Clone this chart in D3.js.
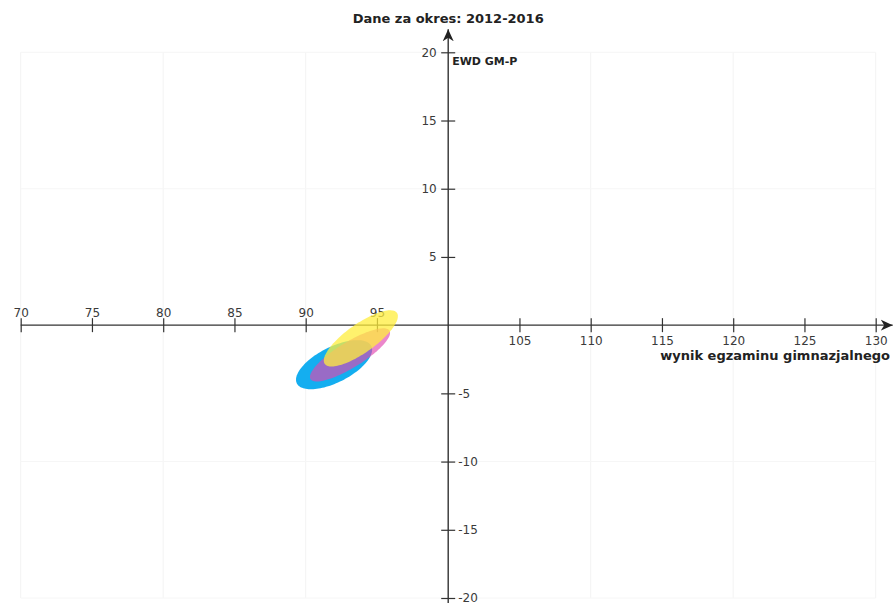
<!DOCTYPE html>
<html lang="pl">
<head>
<meta charset="utf-8">
<title>EWD GM-P 2012-2016</title>
<script src="https://cdn.jsdelivr.net/npm/d3@7/dist/d3.min.js"></script>
<style>
  html, body { margin: 0; padding: 0; background: #fff; }
  svg { display: block; }
  .tick text { font-family: "DejaVu Sans", sans-serif; font-size: 12px; fill: #3a3a3a; }
  .lbl { font-family: "DejaVu Sans", sans-serif; font-weight: bold; fill: #222; }
</style>
</head>
<body>
<svg id="chart" width="894" height="603"></svg>
<script>
// Axis ticks
const xTicksLeft  = [70, 75, 80, 85, 90, 95];
const xTicksRight = [105, 110, 115, 120, 125, 130];
const yTicksUp    = [5, 10, 15, 20];
const yTicksDown  = [-5, -10, -15, -20];
const gridX = [70, 80, 90, 110, 120, 130];
const gridY = [-20, -10, 10, 20];

// Confidence ellipses: mean exam score, mean EWD, spreads and correlation
const periodNames = ["okres A", "okres B", "okres C"];
const meanX = [91.99, 93.11, 93.87];
const meanY = [-2.90, -2.18, -0.97];
const sdX   = [2.67, 2.81, 2.60];
const sdY   = [1.80, 1.95, 2.06];
const corr  = [0.61, 0.83, 0.79];
const fills = ["#14aef0", "#e146af", "#ffee3c"];
const alphas = [1, 0.65, 0.75];

const title = "Dane za okres: 2012-2016";
const yTitle = "EWD GM-P";
const xTitle = "wynik egzaminu gimnazjalnego";

const svg = d3.select("#chart");
const x = d3.scaleLinear().domain([70, 130]).range([20.7, 875.7]);
const y = d3.scaleLinear().domain([-20, 20]).range([598, 52.3]);
const x0 = x(100), y0 = y(0);
const fmt = d => String(d);

// faint background grid
svg.append("g").selectAll("line").data(gridX).join("line")
  .attr("x1", d => x(d)).attr("x2", d => x(d))
  .attr("y1", y(20)).attr("y2", y(-20))
  .attr("stroke", "#f3f3f3").attr("stroke-width", 1);
svg.append("g").selectAll("line").data(gridY).join("line")
  .attr("x1", x(70)).attr("x2", x(130))
  .attr("y1", d => y(d)).attr("y2", d => y(d))
  .attr("stroke", "#f6f6f6").attr("stroke-width", 1);

// arrow marker
const defs = svg.append("defs");
defs.append("marker")
  .attr("id", "arrow").attr("viewBox", "-12 -6 13 12")
  .attr("refX", 0).attr("refY", 0)
  .attr("markerWidth", 13).attr("markerHeight", 12)
  .attr("markerUnits", "userSpaceOnUse")
  .attr("orient", "auto")
  .append("path").attr("d", "M0,0 L-12,-5.5 L-8.5,0 L-12,5.5 Z").attr("fill", "#222");

const axisColor = "#333";

// axis lines
svg.append("line")
  .attr("x1", x(70)).attr("x2", x(130) + 17)
  .attr("y1", y0).attr("y2", y0)
  .attr("stroke", axisColor).attr("stroke-width", 1.4)
  .attr("marker-end", "url(#arrow)");
svg.append("line")
  .attr("x1", x0).attr("x2", x0)
  .attr("y1", 603).attr("y2", y(20) - 23)
  .attr("stroke", axisColor).attr("stroke-width", 1.4)
  .attr("marker-end", "url(#arrow)");

function crossTicks(g, horizontal) {
  g.select(".domain").remove();
  g.selectAll(".tick line")
    .attr("stroke", axisColor).attr("stroke-width", 1.2);
  if (horizontal) g.selectAll(".tick line").attr("y1", -7).attr("y2", 7);
  else g.selectAll(".tick line").attr("x1", -7).attr("x2", 7);
}

// x axis: labels above on the left of origin, below on the right
svg.append("g").attr("transform", `translate(0,${y0})`)
  .call(d3.axisTop(x).tickValues(xTicksLeft).tickSize(7).tickPadding(8).tickFormat(fmt))
  .call(g => crossTicks(g, true))
  .call(g => g.selectAll("text").attr("y", -8).attr("dy", 0));
svg.append("g").attr("transform", `translate(0,${y0})`)
  .call(d3.axisBottom(x).tickValues(xTicksRight).tickSize(7).tickPadding(8).tickFormat(fmt))
  .call(g => crossTicks(g, true))
  .call(g => g.selectAll("text").attr("y", 20).attr("dy", 0));

// y axis: positive labels left, negative labels right
svg.append("g").attr("transform", `translate(${x0},0)`)
  .call(d3.axisLeft(y).tickValues(yTicksUp).tickSize(7).tickPadding(4).tickFormat(fmt))
  .call(g => crossTicks(g, false))
  .call(g => g.selectAll("text").attr("x", -11.5));
svg.append("g").attr("transform", `translate(${x0},0)`)
  .call(d3.axisRight(y).tickValues(yTicksDown).tickSize(7).tickPadding(4).tickFormat(fmt))
  .call(g => crossTicks(g, false))
  .call(g => g.selectAll("text").attr("x", 10));

// ellipses
const ellipses = periodNames.map((name, i) => {
  const k = Math.sqrt(1 - corr[i] * corr[i]);
  return d3.range(0, 120).map(j => {
    const t = j / 120 * 2 * Math.PI;
    return [meanX[i] + sdX[i] * Math.cos(t),
            meanY[i] + sdY[i] * (corr[i] * Math.cos(t) + k * Math.sin(t))];
  });
});
const line = d3.line().x(d => x(d[0])).y(d => y(d[1])).curve(d3.curveLinearClosed);
svg.append("g").selectAll("path").data(ellipses).join("path")
  .attr("d", line)
  .attr("fill", (d, i) => fills[i])
  .attr("fill-opacity", (d, i) => alphas[i])
  .attr("stroke", "none");

// titles
svg.append("text").attr("class", "lbl")
  .attr("x", x0).attr("y", 23.3).attr("text-anchor", "middle")
  .attr("font-size", 13).text(title);
svg.append("text").attr("class", "lbl")
  .attr("x", x0 + 4).attr("y", 65).attr("font-size", 11).text(yTitle);
svg.append("text").attr("class", "lbl")
  .attr("x", 890).attr("y", 360).attr("text-anchor", "end")
  .attr("font-size", 13).text(xTitle);
</script>
</body>
</html>
